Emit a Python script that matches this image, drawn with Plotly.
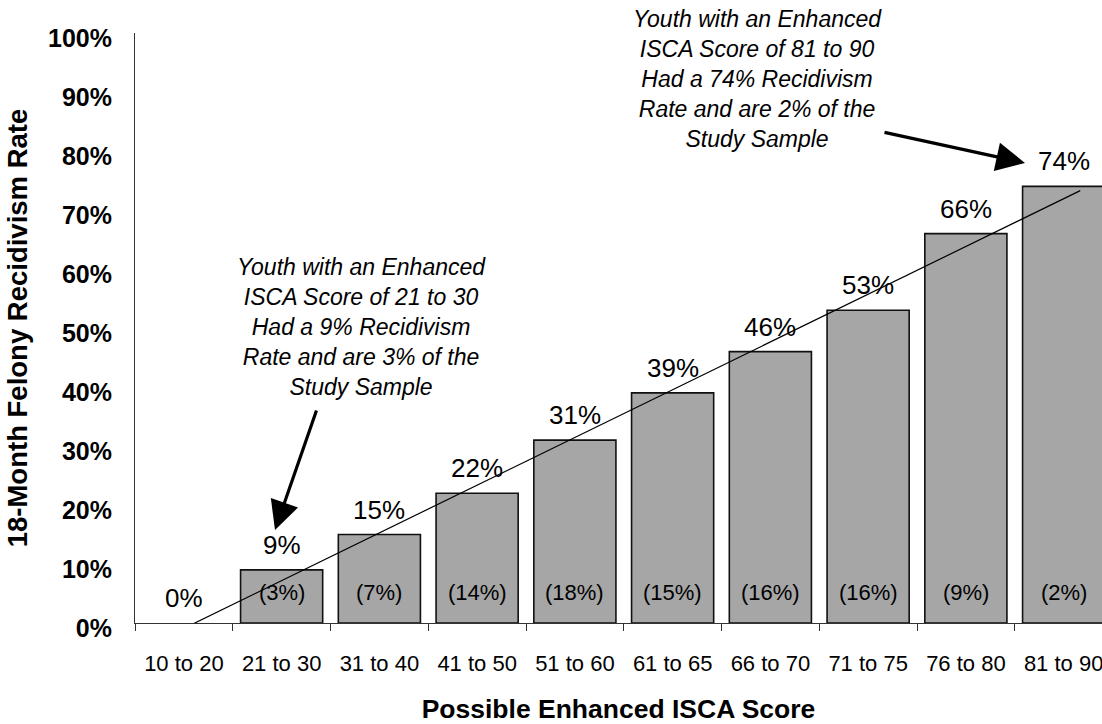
import numpy as np
import plotly.graph_objects as go

# Enhanced ISCA score bands and 18-month felony recidivism results
score_bands = ["10 to 20", "21 to 30", "31 to 40", "41 to 50", "51 to 60",
               "61 to 65", "66 to 70", "71 to 75", "76 to 80", "81 to 90"]
recidivism_pct = [0, 9, 15, 22, 31, 39, 46, 53, 66, 74]
sample_share_pct = [None, 3, 7, 14, 18, 15, 16, 16, 9, 2]
y_ticks = list(range(0, 101, 10))

FONT = "Liberation Sans, Arial, sans-serif"
W, H = 1102, 724
M_L, M_R, M_T, M_B = 135, 0, 33, 101
PLOT_W = W - M_L - M_R
PLOT_H = H - M_T - M_B
CAT_PX = 97.75  # pixel width of one score band
x_range = [-0.5, -0.5 + PLOT_W / CAT_PX]


def px_to_paper(px, py):
    return (px - M_L) / PLOT_W, (H - M_B - py) / PLOT_H


fig = go.Figure()

# Empty bands get no outline so nothing is drawn for a 0% rate
outline_widths = [0 if v == 0 else 1.6 for v in recidivism_pct]
fig.add_trace(go.Bar(
    x=score_bands,
    y=recidivism_pct,
    width=0.84,
    marker=dict(color="#a6a6a6", line=dict(color="#111111", width=outline_widths)),
    showlegend=False,
    hoverinfo="x+y",
))

# Linear trend of the recidivism rates across bands
idx = np.arange(len(recidivism_pct))
slope, intercept = np.polyfit(idx, np.array(recidivism_pct, dtype=float), 1)
trend_x = np.array([0.06, 9.17])
fig.add_trace(go.Scatter(
    x=trend_x,
    y=slope * trend_x + intercept,
    xaxis="x2",
    mode="lines",
    line=dict(color="#000000", width=1.2),
    showlegend=False,
    hoverinfo="skip",
))

annotations = []
# Rate labels above each bar
for band, rate in zip(score_bands, recidivism_pct):
    annotations.append(dict(
        x=band, y=rate, xref="x", yref="y",
        text=f"{rate}%", showarrow=False,
        yanchor="bottom", yshift=8,
        font=dict(family=FONT, size=26, color="#000000"),
    ))
# Share of study sample inside each bar
for band, share in zip(score_bands, sample_share_pct):
    if share is None:
        continue
    annotations.append(dict(
        x=band, y=0, xref="x", yref="y",
        text=f"({share}%)", showarrow=False,
        yanchor="middle", yshift=31,
        font=dict(family=FONT, size=22, color="#000000"),
    ))

callout_font = dict(family=FONT, size=23, color="#000000")
lx, ly = px_to_paper(361, 327)
annotations.append(dict(
    x=lx, y=ly, xref="paper", yref="paper", showarrow=False,
    xanchor="center", yanchor="middle", align="center",
    text="<i>Youth with an Enhanced<br>ISCA Score of 21 to 30<br>Had a 9% Recidivism<br>"
         "Rate and are 3% of the<br>Study Sample</i>",
    font=callout_font,
))
rx, ry = px_to_paper(757, 79)
annotations.append(dict(
    x=rx, y=ry, xref="paper", yref="paper", showarrow=False,
    xanchor="center", yanchor="middle", align="center",
    text="<i>Youth with an Enhanced<br>ISCA Score of 81 to 90<br>Had a 74% Recidivism<br>"
         "Rate and are 2% of the<br>Study Sample</i>",
    font=callout_font,
))

# Callout arrows
tx, ty = px_to_paper(275, 530)
annotations.append(dict(
    x=tx, y=ty, xref="paper", yref="paper", text="", showarrow=True,
    ax=42, ay=-121, arrowhead=2, arrowsize=1.8, arrowwidth=3.2,
    arrowcolor="#000000", standoff=0,
))
tx, ty = px_to_paper(1025, 163)
annotations.append(dict(
    x=tx, y=ty, xref="paper", yref="paper", text="", showarrow=True,
    ax=-142, ay=-31, arrowhead=2, arrowsize=1.8, arrowwidth=3.2,
    arrowcolor="#000000", standoff=0,
))

fig.update_layout(
    width=W, height=H,
    margin=dict(l=M_L, r=M_R, t=M_T, b=M_B, pad=0),
    paper_bgcolor="#ffffff", plot_bgcolor="#ffffff",
    font=dict(family=FONT, color="#000000"),
    bargap=0.16,
    annotations=annotations,
    xaxis=dict(
        type="category",
        categoryorder="array", categoryarray=score_bands,
        range=x_range,
        showline=True, linecolor="#333333", linewidth=1,
        ticks="outside", tickson="boundaries", ticklen=7, tickcolor="#333333",
        tickfont=dict(family=FONT, size=22, color="#000000"),
        ticklabelstandoff=21,
        showgrid=False, zeroline=False,
        title=dict(text="<b>Possible Enhanced ISCA Score</b>",
                   font=dict(family=FONT, size=26.5, color="#000000"), standoff=28),
    ),
    xaxis2=dict(
        overlaying="x", range=x_range, visible=False,
    ),
    yaxis=dict(
        range=[0, 100],
        tickvals=y_ticks, ticktext=[f"<b>{v}%</b>" for v in y_ticks],
        showline=True, linecolor="#333333", linewidth=1,
        ticks="", showgrid=False, zeroline=False,
        tickfont=dict(family=FONT, size=25, color="#000000"),
        ticklabelstandoff=17, ticklabelshift=5,
        title=dict(text="<b>18-Month Felony Recidivism Rate</b>",
                   font=dict(family=FONT, size=27.5, color="#000000"), standoff=12),
    ),
)

fig.write_html("out.html")
